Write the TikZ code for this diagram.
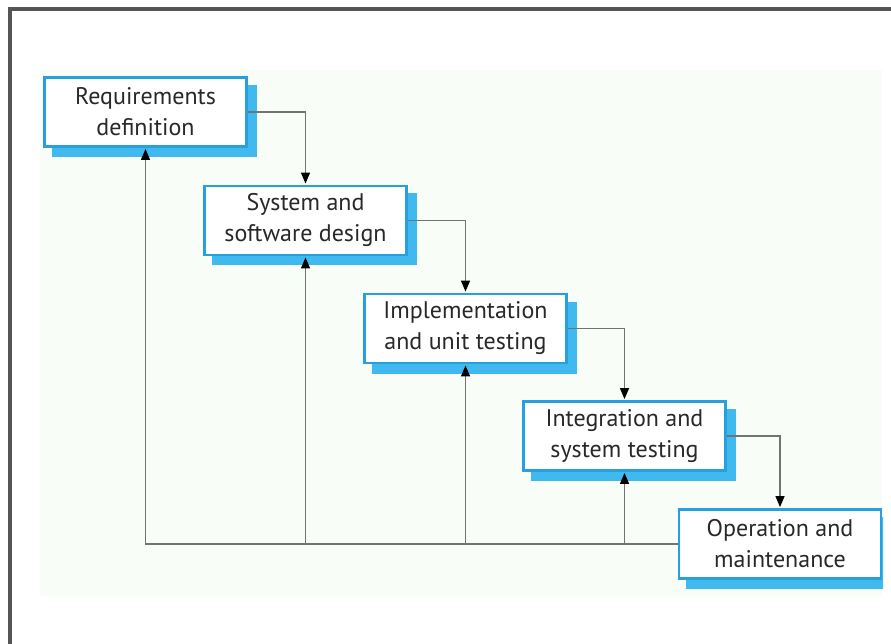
\documentclass[tikz,border=0pt]{standalone}
\usepackage{fontspec}
\setmainfont{PT Sans}
\usetikzlibrary{arrows.meta}
\definecolor{framegray}{RGB}{85,85,85}
\definecolor{panelbg}{RGB}{248,253,247}
\definecolor{boxblue}{RGB}{38,160,222}
\definecolor{shadowblue}{RGB}{64,186,238}
\definecolor{inkgray}{RGB}{40,40,40}
\definecolor{linegray}{RGB}{115,115,115}
\tikzset{
  stage/.style={draw=boxblue, line width=2.5pt, fill=white, minimum width=202pt,
    minimum height=69pt, align=center, text=inkgray,
    font=\fontsize{24}{31}\selectfont, inner sep=0pt},
  stageshadow/.style={fill=shadowblue},
  flow/.style={draw=linegray, line width=1.4pt,
    -{Triangle[length=11pt,width=9pt,color=black]}, shorten >=1.2pt},
  backflow/.style={draw=linegray, line width=1.4pt,
    -{Triangle[length=11pt,width=9pt,color=black]}, shorten >=1.2pt}
}
\begin{document}
\begin{tikzpicture}[x=1pt,y=-1pt]
\useasboundingbox (0,0) rectangle (891,644);
\fill[white] (0,0) rectangle (891,644);
% outer frame: top and left bars
\fill[framegray] (8,7) rectangle (891,11);
\fill[framegray] (8,7) rectangle (12,644);
\begin{scope}
\clip (0,0) rectangle (883,644);
\fill[panelbg] (40,70) rectangle (882,596);
% offset shadows behind the stage boxes
\foreach \cx/\cy in {145.5/112, 305.5/220.5, 465.5/328.5, 624.5/436, 780/544}
  \fill[stageshadow] (\cx-94,\cy-27) rectangle (\cx+111,\cy+45);
% the five stages
\node[stage] (req) at (145.5,112) {Requirements\\definition};
\node[stage] (des) at (305.5,220.5) {System and\\software design};
\node[stage] (imp) at (465.5,328.5) {Implementation\\and unit testing};
\node[stage] (int) at (624.5,436) {Integration and\\system testing};
\node[stage] (ops) at (780,544) {Operation and\\maintenance};
\end{scope}
% forward flow between stages
\draw[flow] (req.east) -| (des.north);
\draw[flow] (des.east) -| (imp.north);
\draw[flow] (imp.east) -| (int.north);
\draw[flow] (int.east) -| (ops.north);
% feedback paths
\coordinate (fbi) at (int.south |- ops.west);
\coordinate (fbm) at (imp.south |- ops.west);
\coordinate (fbd) at (des.south |- ops.west);
\draw[backflow] (ops.west) -| (req.south);
\draw[backflow] (fbd) -- (des.south);
\draw[backflow] (fbm) -- (imp.south);
\draw[backflow] (fbi) -- (int.south);
\end{tikzpicture}
\end{document}
